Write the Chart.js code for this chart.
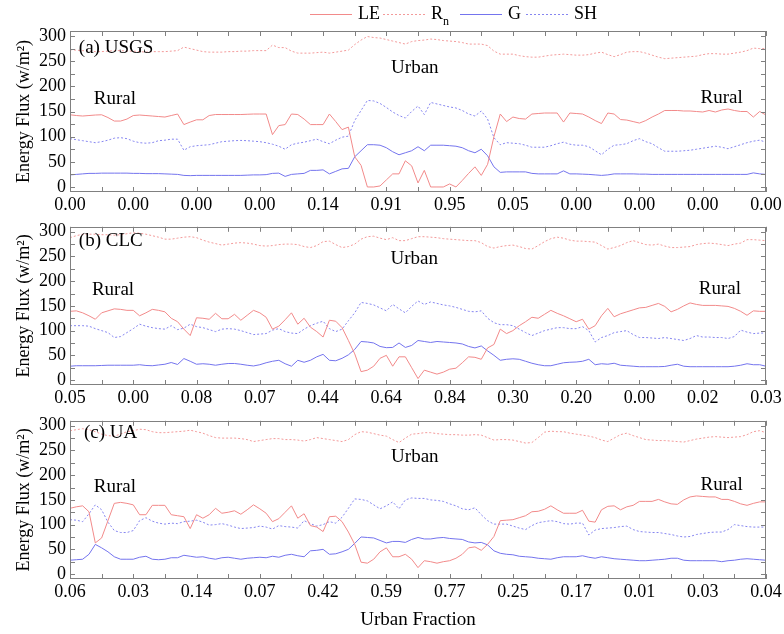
<!DOCTYPE html>
<html>
<head>
<meta charset="utf-8">
<script src="https://cdn.jsdelivr.net/npm/chart.js@4.4.0/dist/chart.umd.min.js"></script>
<style>
  body { margin: 0; background: #fff; }
  canvas { position: absolute; left: 0; }
</style>
</head>
<body>
<canvas id="chartA" width="784" height="212" style="top:0px"></canvas>
<canvas id="chartB" width="784" height="194" style="top:212px"></canvas>
<canvas id="chartC" width="784" height="228" style="top:406px"></canvas>
<script>
// tick labels (urban fraction) for each panel
var xTicksA = ['0.00', '0.00', '0.00', '0.00', '0.14', '0.91', '0.95', '0.05', '0.00', '0.00', '0.00', '0.00'];
var xTicksB = ['0.05', '0.00', '0.08', '0.07', '0.44', '0.64', '0.84', '0.30', '0.20', '0.00', '0.02', '0.03'];
var xTicksC = ['0.06', '0.03', '0.14', '0.07', '0.42', '0.59', '0.77', '0.25', '0.17', '0.01', '0.03', '0.04'];
var yTicks = [0, 50, 100, 150, 200, 250, 300];

// (a) USGS
var leA = [143.5,142,141,142,143,143.5,138,131,131,135,
  142,143,142,141,140,139,142,145,124,129,
  133.5,133.5,142,144,144,144,144,144,144.5,145,
  145,145,104,122,124,145,144,135,124,124,
  124,145,130,114,119,60,43,0,0,2,
  14,26,26,52,42,8,33,0,0,0,
  6,0,13,27,40,23,45,100,145,130,
  139,136,135,145,146,147,147,147,129,147,
  146,145,139,132,126,147,145,134,133,130,
  127,132,139,145,152,152,152,151,151,150,
  149,152,149,153,155,152,150,150,139,150,143];
var rnA = [273,272,271,270,269,269,270,271,271,270,
  270,269,268,269,269,269,270,271,278,275,
  272,269,268,268,268,269,269,270,270,271,
  271,271,282,277,277,270,266,266,266,267,
  268,266,268,270,272,283,292,299,297,296,
  293,290,287,284,289,291,292,294,293,291,
  290,289,287,284,284,284,281,270,264,264,
  264,261,259,258,258,260,262,263,264,263,
  262,262,263,266,268,263,259,263,268,269,
  269,266,262,258,255,256,257,258,259,260,
  263,265,265,264,264,266,268,271,276,275,275];
var gA = [24,25,26,27,27,27.5,27.5,27.5,27.5,27.5,
  27,27,26.5,26.5,26.5,26,25.5,25,23,22.5,
  23,23,23,23,23,23,23,23,23.5,24,
  24,24.5,27,27.5,21,25,26,27,33,33,
  34,26,31,36,37,60,72,84,84,83,
  78,70,64,68,72,80,72,83,83,83,
  82,81,78,72,68,75,62,40,29,30,
  30,30,30,27,26,26,26,26,32,26,
  26,25.5,25,24,23,24,26,26,26,26,
  25.5,25.5,25,25,25,25,25,25,25,25,
  25,25,25,25,25,25,25,25,28,26,25];
var shA = [96,94,92,90,88,90,93,97,98,96,
  91,88,87,88,92,93,95,95,73,80,
  82,83,84,87,90,91,92,92.5,92,91,
  90,88,85,81,75,84,87,89,92,95,
  90,86,93,99,101,132,152,172,171,166,
  158,149,142,137,150,161,144,168,165,162,
  159,157,152,145,141,151,135,98,84,88,
  87,86,83,79,79,79,82,86,89,85,
  83,83,80,72,64,75,83,84,86,92,
  96,90,86,78,71,71,71,72,73,75,
  77,79,81,79,76,80,84,88,91,93,89];

// (b) CLC
var leB = [139,140,136,130,123,136,140,144,143,141,
  141,130,136,143,141,138,125,118,103,90,
  126,125,123,135,124,124,133,121,131,141,
  136,127,103,109,122,136,113,125,107,98,
  87,121,119,106,80,53,17,20,28,44,
  50,28,47,47,25,3,20,16,12,16,
  22,24,35,47,46,42,65,72,103,94,
  100,110,118,127,125,133,141,135,130,124,
  118,123,103,110,130,145,128,134,138,142,
  146,147,151,155,149,138,143,150,156,153,
  151,151,151,150,149,145,139,131,140,139,139];
var rnB = [288,292,295,295,295,294,294,293,294,296,
  298,297,295,292,289,285,285,287,289,290,
  288,283,279,276,273,275,277,278,277,275,
  272,271,272,274,275,275,274,270,268,272,
  280,281,274,268,270,275,285,290,291,287,
  284,288,282,282,286,290,290,289,288,286,
  285,284,283,282,282,278,270,267,270,272,
  273,270,266,265,272,280,286,289,287,283,
  281,281,280,279,272,265,268,272,278,282,
  278,274,273,275,271,268,268,269,270,274,
  276,277,276,274,272,275,277,284,284,283,282];
var gB = [28,29,29,29,29,29.5,30,30,30,30,
  30,31,29.5,29,30.5,32,35.5,31.5,43.5,38,
  32,33,32,30,32,33.5,33.5,32,30,28.5,
  31,35,38,40,33,28,40,36,40,47,
  52,40,39,44,51,62,78,77,75,68,
  65.5,66,75,66,70,80,78,76,78,77,
  76,75,73,68,65,69,59,50,40,42,
  43,42,38,34,31,29,29,32,35,36,
  36.5,38,42,31,33,32,34,30,29,28,
  27,27,27,27,27.5,30,32,28,27,27,
  27,27,27,27,27,28,30,33,31,31,28];
var shB = [110,110,110,109,104,100,96,86,88,96,
  104,113,109,106,104,103,110,102,105,113,
  108,106,102,98,103,104,103,100,96,92,
  93,94,101,104,98,95,94,103,110,115,
  119,104,98,103,120,136,157,155,152,146,
  140,153,144,136,149,160,153,158,155,152,
  150,147,143,139,138,140,125,116,112,112,
  110,103,96,90,95,100,103,106,106,104,
  104,108,100,77,86,90,96,98,100,92,
  86,86,85,84,86,84,82,80,84,90,
  87,87,86,86,84,88,101,97,94,95,95];

// (c) UA
var leC = [133,136,138,126,63,73,108,143,145,143,
  140,120,120,139,139,139,120,118,116,92,
  120,113,120,133,123,125,128,121,130,140,
  132,123,106,112,125,138,113,122,98,95,
  86,116,117,106,85,60,24,22,30,45,
  53,35,35,40,30,13,27,25,22,25,
  27,32,40,53,55,48,60,76,108,109,
  110,114,118,126,127,131,138,130,123,123,
  123,129,107,105,130,137,138,130,136,139,
  147,147,147,151,146,142,141,150,156,158,
  157,156,156,151,151,147,142,139,143,146,146];
var rnC = [290,292,294,292,288,283,280,279,283,288,
  290,293,292,288,286,286,287,288,289,291,
  288,285,280,276,275,275,275,274,272,268,
  270,272,274,274,272,272,271,269,272,276,
  274,272,270,268,272,282,288,287,284,281,
  279,272,266,275,283,284,286,286,284,283,
  282,282,281,281,282,281,276,271,272,272,
  271,268,265,266,276,287,289,288,288,285,
  283,281,279,276,271,268,275,282,285,280,
  276,272,271,270,270,269,268,267,270,273,
  275,277,278,277,276,277,278,282,288,290,286];
var gC = [28,29,30,40,60,53,45,35,30,30,
  30,34,36,30,29,30,33,33,38,36,
  34,35,32,30,33,34,32,30,32,33,
  34,33,36,34,38,40,37,35,47,48,
  50,40,41,45,50,62,75,74,73,68,
  63,66,66,64,70,74,71,71,73,74,
  72,71,70,65,63,64,59,47,42,40,
  39,36,35,34,32,31,30,33,35,35,
  35,37,34,32,35,33,31,30,29,28,
  27,27,28,29,30,32,32,28,27,27,
  27,27,27,25,27,28,30,31,30,29,28];
var shC = [110,109,106,122,140,130,105,88,84,84,
  88,108,114,107,103,101,103,102,106,107,
  109,105,99,100,102,99,95,92,93,94,
  97,95,91,98,96,95,93,108,102,97,
  100,106,103,115,133,152,151,148,140,132,
  138,146,132,150,154,153,153,150,149,147,
  142,138,132,130,134,120,108,101,101,101,
  97,93,90,98,104,106,108,106,102,101,
  103,103,79,89,92,93,94,96,97,90,
  86,85,84,84,82,80,77,75,76,80,
  82,84,85,85,90,100,98,96,95,95,95];

// text placed inside each panel, in data units
var notesA = [
  { text: '(a) USGS', x: 1.4, y: 276, align: 'left' },
  { text: 'Urban', x: 54.5, y: 237, align: 'center' },
  { text: 'Rural', x: 7.1, y: 175, align: 'center' },
  { text: 'Rural', x: 103, y: 177, align: 'center' }
];
var notesB = [
  { text: '(b) CLC', x: 1.4, y: 282, align: 'left' },
  { text: 'Urban', x: 54.4, y: 245, align: 'center' },
  { text: 'Rural', x: 6.8, y: 183, align: 'center' },
  { text: 'Rural', x: 102.7, y: 185, align: 'center' }
];
var notesC = [
  { text: '(c) UA', x: 2.2, y: 286, align: 'left' },
  { text: 'Urban', x: 54.5, y: 237, align: 'center' },
  { text: 'Rural', x: 7.1, y: 177, align: 'center' },
  { text: 'Rural', x: 103, y: 181, align: 'center' }
];

var seriesNames = ['LE', 'Rn', 'G', 'SH'];
var seriesColors = ['#f28a8a', '#f39a9a', '#7474ee', '#8686f0'];
var seriesDash = [[], [2, 2], [], [2, 2]];

var serif = '"Liberation Serif", "Times New Roman", serif';
var frameColor = '#808080';

// box around the plot with inward ticks on all four sides
var framePlugin = {
  id: 'frame',
  afterDraw: function(chart) {
    var ctx = chart.ctx, a = chart.chartArea, x = chart.scales.x, y = chart.scales.y;
    ctx.save();
    ctx.strokeStyle = frameColor;
    ctx.lineWidth = 1;
    ctx.strokeRect(Math.round(a.left) + 0.5, Math.round(a.top) + 0.5,
      Math.round(a.right - a.left) - 1, Math.round(a.bottom - a.top) - 1);
    ctx.beginPath();
    for (var v = x.min; v <= x.max; v += 5) {
      var px = Math.round(x.getPixelForValue(v)) + 0.5;
      ctx.moveTo(px, a.bottom); ctx.lineTo(px, a.bottom - 5);
      ctx.moveTo(px, a.top); ctx.lineTo(px, a.top + 5);
    }
    for (var w = 0; w <= 300; w += 25) {
      var py = Math.round(y.getPixelForValue(w)) + 0.5;
      ctx.moveTo(a.left, py); ctx.lineTo(a.left + 5, py);
      ctx.moveTo(a.right, py); ctx.lineTo(a.right - 5, py);
    }
    ctx.stroke();
    ctx.restore();
  }
};

function makeNotesPlugin(notes) {
  return {
    id: 'notes',
    afterDraw: function(chart) {
      var ctx = chart.ctx, x = chart.scales.x, y = chart.scales.y;
      ctx.save();
      ctx.fillStyle = '#000';
      ctx.font = '19px ' + serif;
      ctx.textBaseline = 'middle';
      notes.forEach(function(n) {
        ctx.textAlign = n.align;
        ctx.fillText(n.text, x.getPixelForValue(n.x), y.getPixelForValue(n.y));
      });
      ctx.restore();
    }
  };
}

// shared legend drawn above the first panel
var legendPlugin = {
  id: 'topLegend',
  afterDraw: function(chart) {
    var ctx = chart.ctx;
    var starts = [310, 383, 460, 526];
    var ly = 14.5;
    ctx.save();
    chart.data.datasets.forEach(function(ds, k) {
      ctx.strokeStyle = ds.borderColor;
      ctx.lineWidth = 1;
      ctx.setLineDash(ds.borderDash);
      ctx.beginPath();
      ctx.moveTo(starts[k], ly);
      ctx.lineTo(starts[k] + 42, ly);
      ctx.stroke();
      ctx.setLineDash([]);
      ctx.fillStyle = '#000';
      ctx.textBaseline = 'middle';
      ctx.textAlign = 'left';
      ctx.font = '18px ' + serif;
      var tx = starts[k] + 48;
      if (ds.label === 'Rn') {
        ctx.fillText('R', tx, 14);
        var rw = ctx.measureText('R').width;
        ctx.font = '12px ' + serif;
        ctx.fillText('n', tx + rw, 22);
      } else {
        ctx.fillText(ds.label, tx, 14);
      }
    });
    ctx.restore();
  }
};

function makePanel(id, tickLabels, le, rn, g, sh, notes, layout) {
  var values = [le, rn, g, sh];
  var plugins = [framePlugin, makeNotesPlugin(notes)];
  if (layout.legend) plugins.push(legendPlugin);
  return new Chart(document.getElementById(id).getContext('2d'), {
    type: 'line',
    data: {
      datasets: seriesNames.map(function(name, k) {
        return {
          label: name,
          data: values[k].map(function(v, i) { return { x: i, y: v }; }),
          borderColor: seriesColors[k],
          borderDash: seriesDash[k],
          borderWidth: 1,
          pointRadius: 0,
          tension: 0,
          fill: false
        };
      })
    },
    options: {
      responsive: false,
      animation: false,
      layout: { padding: { top: layout.top, left: 0, right: 18, bottom: 0 } },
      plugins: { legend: { display: false }, tooltip: { enabled: false } },
      scales: {
        x: {
          type: 'linear',
          min: 0,
          max: (tickLabels.length - 1) * 10,
          grid: { display: false, drawTicks: false },
          border: { display: false },
          afterBuildTicks: function(s) {
            s.ticks = tickLabels.map(function(t, i) { return { value: i * 10 }; });
          },
          afterFit: function(s) { s.height = layout.axis; },
          ticks: {
            autoSkip: false,
            maxRotation: 0,
            padding: 2,
            color: '#000',
            font: { family: serif, size: 18 },
            callback: function(v) { return tickLabels[Math.round(v / 10)]; }
          },
          title: {
            display: !!layout.xTitle,
            text: layout.xTitle || '',
            color: '#000',
            font: { family: serif, size: 19 },
            padding: { top: 0, bottom: 3 }
          }
        },
        y: {
          min: -10,
          max: 310,
          grid: { display: false, drawTicks: false },
          border: { display: false },
          afterBuildTicks: function(s) {
            s.ticks = yTicks.map(function(v) { return { value: v }; });
          },
          afterFit: function(s) { s.width = 70; },
          ticks: { padding: 4, color: '#000', font: { family: serif, size: 18 } },
          title: {
            display: true,
            text: 'Energy Flux (w/m\u00b2)',
            color: '#000',
            font: { family: serif, size: 18 },
            padding: { top: 13, bottom: 0 }
          }
        }
      }
    },
    plugins: plugins
  });
}

makePanel('chartA', xTicksA, leA, rnA, gA, shA, notesA, { top: 31, axis: 20, legend: true });
makePanel('chartB', xTicksB, leB, rnB, gB, shB, notesB, { top: 12, axis: 21 });
makePanel('chartC', xTicksC, leC, rnC, gC, shC, notesC, { top: 12, axis: 55, xTitle: 'Urban Fraction' });
</script>
</body>
</html>
